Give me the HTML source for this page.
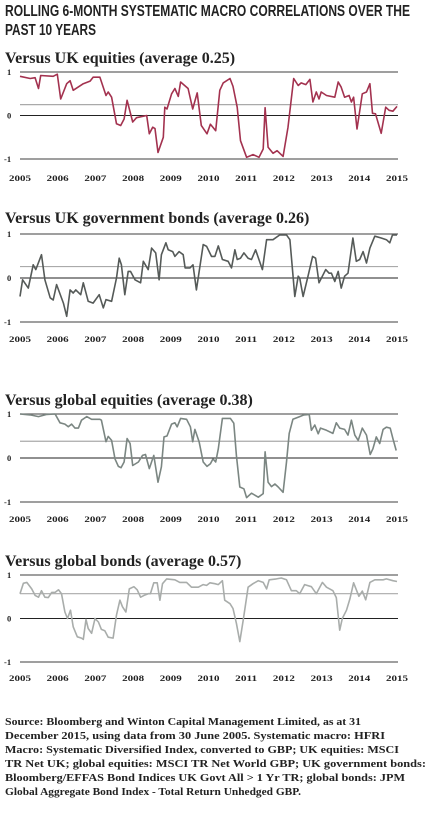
<!DOCTYPE html>
<html><head><meta charset="utf-8"><style>
html,body{margin:0;padding:0;background:#fff;width:436px;height:831px;overflow:hidden}
svg{display:block}
.t{font-family:"Liberation Sans Narrow","Liberation Sans",sans-serif;font-weight:bold;font-size:16px;fill:#222}
.h{font-family:"Liberation Serif",serif;font-weight:bold;font-size:16px;fill:#222}
.y{font-family:"Liberation Serif",serif;font-weight:bold;font-size:8.5px;fill:#222}
.s{font-family:"Liberation Serif",serif;font-weight:bold;font-size:10px;fill:#222}
</style></head><body>
<svg id="c" width="436" height="831" viewBox="0 0 436 831">
<text class="t" x="5" y="16" textLength="405" lengthAdjust="spacingAndGlyphs">ROLLING 6-MONTH SYSTEMATIC MACRO CORRELATIONS OVER THE</text>
<text class="t" x="5" y="35" textLength="91" lengthAdjust="spacingAndGlyphs">PAST 10 YEARS</text>
<g>
<text class="s" x="5" y="725" textLength="356" lengthAdjust="spacingAndGlyphs">Source: Bloomberg and Winton Capital Management Limited, as at 31</text>
<text class="s" x="5" y="739" textLength="380" lengthAdjust="spacingAndGlyphs">December 2015, using data from 30 June 2005. Systematic macro: HFRI</text>
<text class="s" x="5" y="753" textLength="394" lengthAdjust="spacingAndGlyphs">Macro: Systematic Diversified Index, converted to GBP; UK equities: MSCI</text>
<text class="s" x="5" y="767" textLength="421" lengthAdjust="spacingAndGlyphs">TR Net UK; global equities: MSCI TR Net World GBP; UK government bonds:</text>
<text class="s" x="5" y="781" textLength="400" lengthAdjust="spacingAndGlyphs">Bloomberg/EFFAS Bond Indices UK Govt All &gt; 1 Yr TR; global bonds: JPM</text>
<text class="s" x="5" y="795" textLength="296" lengthAdjust="spacingAndGlyphs">Global Aggregate Bond Index - Total Return Unhedged GBP.</text>
</g>
</svg>
<script>
const yearTicks=["2005","2006","2007","2008","2009","2010","2011","2012","2013","2014","2015"];
const valueTicks=[1,0,-1];
const titles=["Versus UK equities (average 0.25)","Versus UK government bonds (average 0.26)","Versus global equities (average 0.38)","Versus global bonds (average 0.57)"];
const averages=[0.25,0.26,0.38,0.57];
const ukEqT=[2005,2005.27,2005.4,2005.49,2005.55,2005.88,2005.99,2006.08,2006.24,2006.33,2006.41,2006.68,2006.86,2006.94,2007.12,2007.28,2007.34,2007.43,2007.56,2007.67,2007.76,2007.84,2007.99,2008.09,2008.36,2008.43,2008.52,2008.58,2008.66,2008.8,2008.84,2008.9,2009.02,2009.11,2009.2,2009.26,2009.46,2009.58,2009.7,2009.81,2009.96,2010.05,2010.19,2010.3,2010.39,2010.57,2010.65,2010.76,2010.85,2011.01,2011.18,2011.34,2011.45,2011.5,2011.58,2011.71,2011.82,2011.98,2012.11,2012.26,2012.38,2012.46,2012.58,2012.69,2012.77,2012.86,2012.93,2012.99,2013.13,2013.35,2013.44,2013.52,2013.61,2013.73,2013.79,2013.85,2013.94,2014.08,2014.19,2014.28,2014.35,2014.43,2014.58,2014.7,2014.79,2014.89,2015];
const ukEqV=[0.9,0.85,0.87,0.62,0.92,0.9,0.95,0.38,0.73,0.8,0.58,0.73,0.79,0.88,0.88,0.46,0.54,0.42,-0.19,-0.23,-0.08,0.35,-0.15,-0.05,0,-0.42,-0.27,-0.3,-0.85,-0.5,0.19,0.15,0.5,0.62,0.44,0.77,0.62,0.15,0.52,-0.23,-0.42,-0.2,-0.35,0.58,0.75,0.85,0.67,0.19,-0.58,-0.96,-0.9,-0.96,-0.77,0.18,-0.73,-0.87,-0.81,-0.94,-0.27,0.85,0.69,0.75,0.71,0.83,0.31,0.54,0.38,0.54,0.46,0.42,0.77,0.65,0.42,0.46,0.31,0.42,-0.31,0.5,0.54,0.73,0.05,0.04,-0.41,0.19,0.12,0.1,0.21];
const ukGovT=[2005,2005.07,2005.22,2005.35,2005.42,2005.57,2005.66,2005.8,2005.88,2005.97,2006.15,2006.24,2006.33,2006.41,2006.48,2006.61,2006.68,2006.81,2006.94,2007.1,2007.21,2007.28,2007.43,2007.56,2007.63,2007.69,2007.78,2007.87,2007.93,2008.05,2008.2,2008.27,2008.4,2008.49,2008.6,2008.69,2008.75,2008.87,2008.93,2009.05,2009.11,2009.22,2009.33,2009.38,2009.51,2009.59,2009.68,2009.86,2009.95,2010.08,2010.17,2010.26,2010.37,2010.52,2010.61,2010.7,2010.76,2010.85,2010.94,2011.05,2011.14,2011.25,2011.43,2011.54,2011.71,2011.89,2012.07,2012.16,2012.29,2012.38,2012.42,2012.51,2012.64,2012.76,2012.84,2012.93,2013.11,2013.2,2013.26,2013.35,2013.44,2013.52,2013.61,2013.7,2013.83,2013.92,2014.01,2014.1,2014.19,2014.28,2014.41,2014.58,2014.72,2014.81,2014.88,2015];
const ukGovV=[-0.42,-0.04,-0.23,0.3,0.19,0.53,-0.04,-0.45,-0.5,-0.15,-0.57,-0.87,-0.27,-0.34,-0.27,-0.38,-0.11,-0.53,-0.57,-0.38,-0.68,-0.49,-0.53,0,0.45,0.3,-0.38,0.15,0.15,-0.04,-0.11,0.38,0.19,0.68,0.57,-0.04,0.53,0.8,0.64,0.6,0.49,0.6,0.53,0.23,0.23,0.3,-0.27,0.76,0.72,0.49,0.49,0.73,0.42,0.38,0.23,0.64,0.42,0.45,0.57,0.45,0.42,0.64,0.19,0.87,0.87,0.98,0.98,0.87,-0.42,0.04,0,-0.42,0.04,0.49,0.45,-0.11,0.19,0.11,0.11,-0.08,0.15,-0.23,0.04,0.11,0.91,0.38,0.42,0.6,0.34,0.68,0.95,0.91,0.87,0.8,0.98,0.98];
const glEqT=[2005,2005.27,2005.49,2005.71,2005.93,2006.06,2006.19,2006.28,2006.37,2006.46,2006.55,2006.63,2006.77,2006.9,2007.12,2007.16,2007.28,2007.34,2007.43,2007.52,2007.61,2007.68,2007.76,2007.84,2007.92,2007.99,2008.14,2008.25,2008.33,2008.43,2008.55,2008.66,2008.75,2008.82,2008.9,2009.02,2009.11,2009.17,2009.26,2009.42,2009.52,2009.58,2009.64,2009.75,2009.86,2009.96,2010.05,2010.12,2010.19,2010.26,2010.37,2010.58,2010.67,2010.74,2010.83,2010.94,2011.01,2011.14,2011.32,2011.45,2011.5,2011.58,2011.67,2011.76,2011.85,2011.98,2012.07,2012.14,2012.24,2012.42,2012.53,2012.67,2012.73,2012.82,2012.91,2012.97,2013.13,2013.3,2013.39,2013.48,2013.61,2013.7,2013.79,2013.88,2013.97,2014.08,2014.19,2014.29,2014.36,2014.45,2014.54,2014.63,2014.72,2014.82,2014.89,2014.98];
const glEqV=[1,0.98,0.94,0.99,1,0.8,0.77,0.71,0.77,0.68,0.68,0.86,0.94,0.88,0.88,0.86,0.37,0.49,0.4,-0.02,-0.19,-0.22,-0.09,0.44,0.33,-0.17,-0.09,0.06,0.08,-0.24,0.06,-0.55,-0.2,0.48,0.5,0.77,0.8,0.71,0.9,0.88,0.71,0.37,0.65,0.37,-0.09,-0.19,-0.13,-0.02,-0.09,0.21,0.9,0.9,0.79,0.06,-0.66,-0.7,-0.9,-0.8,-0.89,-0.81,0.14,-0.55,-0.65,-0.59,-0.66,-0.78,-0.09,0.56,0.88,0.94,0.98,0.99,0.63,0.75,0.55,0.68,0.63,0.56,0.8,0.68,0.65,0.52,0.86,0.52,0.4,0.68,0.52,0.08,0.21,0.48,0.33,0.65,0.7,0.68,0.44,0.17];
const glBdT=[2005,2005.09,2005.18,2005.31,2005.4,2005.49,2005.57,2005.66,2005.75,2005.84,2005.93,2006.02,2006.1,2006.19,2006.26,2006.34,2006.41,2006.52,2006.63,2006.68,2006.75,2006.81,2006.9,2006.99,2007.08,2007.16,2007.25,2007.34,2007.47,2007.56,2007.65,2007.72,2007.81,2007.9,2008.02,2008.11,2008.2,2008.29,2008.4,2008.46,2008.55,2008.64,2008.71,2008.78,2008.89,2009.11,2009.24,2009.42,2009.55,2009.73,2009.86,2009.95,2010.04,2010.17,2010.26,2010.37,2010.43,2010.57,2010.65,2010.74,2010.83,2010.92,2011.05,2011.18,2011.32,2011.45,2011.54,2011.61,2011.8,2011.93,2012.07,2012.2,2012.33,2012.42,2012.55,2012.73,2012.86,2013.02,2013.13,2013.3,2013.39,2013.48,2013.55,2013.66,2013.75,2013.85,2013.99,2014.08,2014.17,2014.28,2014.41,2014.63,2014.72,2014.89,2015];
const glBdV=[0.57,0.81,0.83,0.68,0.53,0.49,0.64,0.49,0.48,0.6,0.6,0.66,0.57,0.15,0,0.19,-0.19,-0.42,-0.45,-0.48,-0.02,-0.23,-0.34,0,-0.08,-0.25,-0.28,-0.43,-0.45,0.08,0.42,0.27,0.15,0.68,0.73,0.66,0.49,0.53,0.57,0.57,0.82,0.82,0.42,0.8,0.91,0.89,0.83,0.83,0.72,0.72,0.78,0.76,0.82,0.8,0.78,0.87,0.42,0.34,0.23,-0.11,-0.53,-0.04,0.72,0.8,0.87,0.83,0.68,0.89,0.91,0.93,0.89,0.64,0.64,0.57,0.78,0.73,0.57,0.83,0.72,0.64,0.48,-0.27,0,0.19,0.45,0.82,0.51,0.63,0.43,0.83,0.89,0.89,0.91,0.87,0.85];
const seriesT=[ukEqT,ukGovT,glEqT,glBdT];
const seriesV=[ukEqV,ukGovV,glEqV,glBdV];
const colors=["#a3324f","#555a58","#7b8682","#a9adab"];
const names=["uk-equities","uk-government-bonds","global-equities","global-bonds"];
const layout=[[63,72,43.5,181],[223,234,44,342],[405,414,44,522],[566,575,43.5,681]];
const NS="http://www.w3.org/2000/svg";
const svg=document.getElementById('c');
const X0=20,X1=397;
function xs(t){return X0+(t-2005)/10*(X1-X0);}
function mk(tag,attrs,parent){const e=document.createElementNS(NS,tag);for(const k in attrs)e.setAttribute(k,attrs[k]);parent.appendChild(e);return e;}
titles.forEach((title,i)=>{
  const [tb,y1,u,lb]=layout[i];
  const ys=v=>y1+(1-v)*u;
  const g=mk('g',{},svg);
  
  
  const tt=mk('text',{class:'h',x:5,y:tb},g);
  
  
  tt.textContent=title;
  valueTicks.forEach(v=>{
    const ln=mk('line',{x1:X0,x2:398,y1:ys(v),y2:ys(v),stroke:v===0?'#222':'#666','stroke-width':v===0?1:1.2},g);
    
    
    const lt=mk('text',{class:'y',x:v<0?4:7,y:ys(v)+3},g);
    
    
    lt.textContent=v<0?'-1':String(v);
  });
  const av=mk('line',{x1:X0,x2:398,y1:ys(averages[i]),y2:ys(averages[i]),stroke:'#aaa','stroke-width':1.2},g);
  
  
  yearTicks.forEach(y=>{
    const yt=mk('text',{class:'y',x:xs(+y),y:lb,'text-anchor':'middle',textLength:22,lengthAdjust:'spacingAndGlyphs'},g);
    
    
    yt.textContent=y;
  });
  const T=seriesT[i],V=seriesV[i];
  const d=T.map((t,k)=>(k?'L':'M')+xs(t).toFixed(1)+','+ys(V[k]).toFixed(1)).join('');
  const p=mk('path',{d:d,fill:'none',stroke:colors[i],'stroke-width':1.6,'stroke-linejoin':'round'},g);
  
  
});
</script>
</body></html>
